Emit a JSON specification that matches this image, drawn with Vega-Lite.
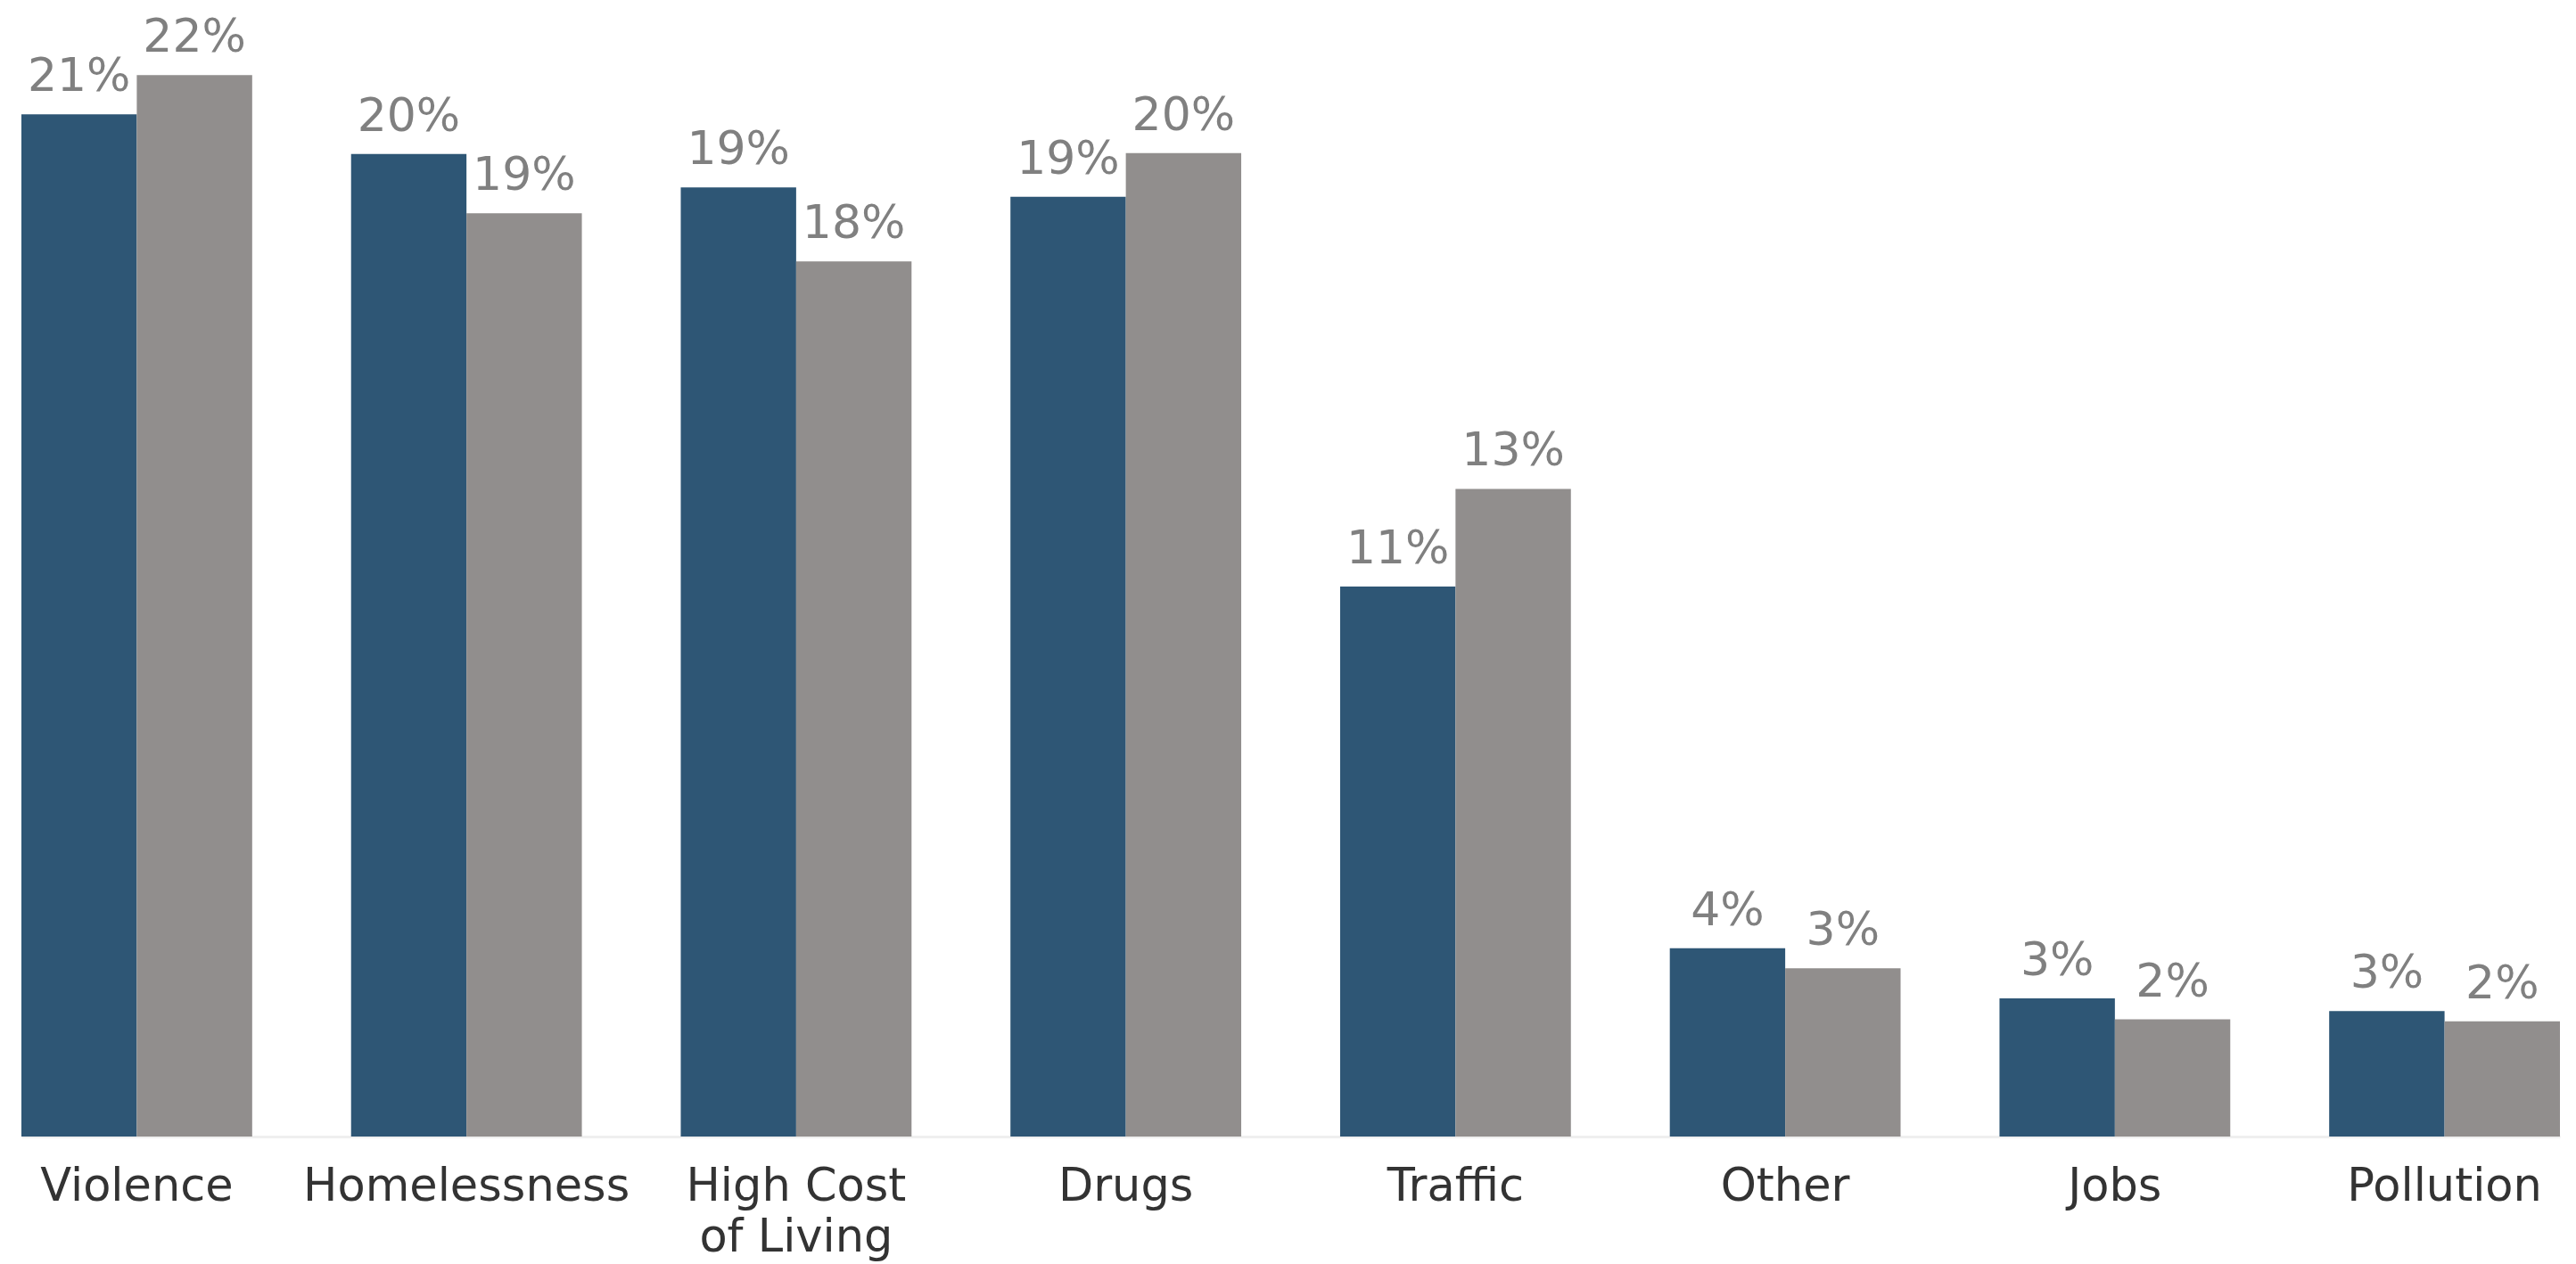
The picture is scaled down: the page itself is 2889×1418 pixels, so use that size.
{
  "$schema": "https://vega.github.io/schema/vega-lite/v6.json",
  "width": 2847,
  "height": 1265,
  "autosize": {"type": "none"},
  "padding": {"left": 24, "right": 18, "top": 10, "bottom": 143},
  "config": {"view": {"stroke": null}, "font": "DejaVu Sans"},
  "data": {
    "values": [
      {"issue": "Violence", "series": "Series 1", "value": 0.2085},
      {"issue": "Violence", "series": "Series 2", "value": 0.2165},
      {"issue": "Homelessness", "series": "Series 1", "value": 0.2004},
      {"issue": "Homelessness", "series": "Series 2", "value": 0.1883},
      {"issue": "High Cost of Living", "series": "Series 1", "value": 0.1936},
      {"issue": "High Cost of Living", "series": "Series 2", "value": 0.1785},
      {"issue": "Drugs", "series": "Series 1", "value": 0.1917},
      {"issue": "Drugs", "series": "Series 2", "value": 0.2006},
      {"issue": "Traffic", "series": "Series 1", "value": 0.1122},
      {"issue": "Traffic", "series": "Series 2", "value": 0.1321},
      {"issue": "Other", "series": "Series 1", "value": 0.0384},
      {"issue": "Other", "series": "Series 2", "value": 0.0343},
      {"issue": "Jobs", "series": "Series 1", "value": 0.0282},
      {"issue": "Jobs", "series": "Series 2", "value": 0.0239},
      {"issue": "Pollution", "series": "Series 1", "value": 0.0256},
      {"issue": "Pollution", "series": "Series 2", "value": 0.0235}
    ]
  },
  "encoding": {
    "x": {
      "field": "issue",
      "type": "nominal",
      "sort": null,
      "scale": {"paddingInner": 0.3, "paddingOuter": 0},
      "axis": {
        "title": null,
        "ticks": false,
        "domainColor": "#efefef",
        "domainWidth": 3,
        "labelAngle": 0,
        "labelFontSize": 51,
        "labelColor": "#333333",
        "labelPadding": 31,
        "labelLimit": 0,
        "labelLineHeight": 57,
        "labelExpr": "datum.label == 'High Cost of Living' ? ['High Cost', 'of Living'] : datum.label"
      }
    },
    "xOffset": {
      "field": "series",
      "type": "nominal",
      "sort": ["Series 1", "Series 2"],
      "scale": {"paddingInner": 0, "paddingOuter": 0}
    },
    "y": {
      "field": "value",
      "type": "quantitative",
      "scale": {"domain": [0, 0.23], "nice": false, "zero": true},
      "axis": null
    }
  },
  "layer": [
    {
      "mark": {"type": "bar"},
      "encoding": {
        "color": {
          "field": "series",
          "type": "nominal",
          "scale": {"domain": ["Series 1", "Series 2"], "range": ["#2e5675", "#918e8d"]},
          "legend": null
        }
      }
    },
    {
      "mark": {"type": "text", "align": "center", "baseline": "alphabetic", "dy": -26, "fontSize": 52, "color": "#808080"},
      "encoding": {
        "text": {"field": "value", "type": "quantitative", "format": ".0%"}
      }
    }
  ]
}
